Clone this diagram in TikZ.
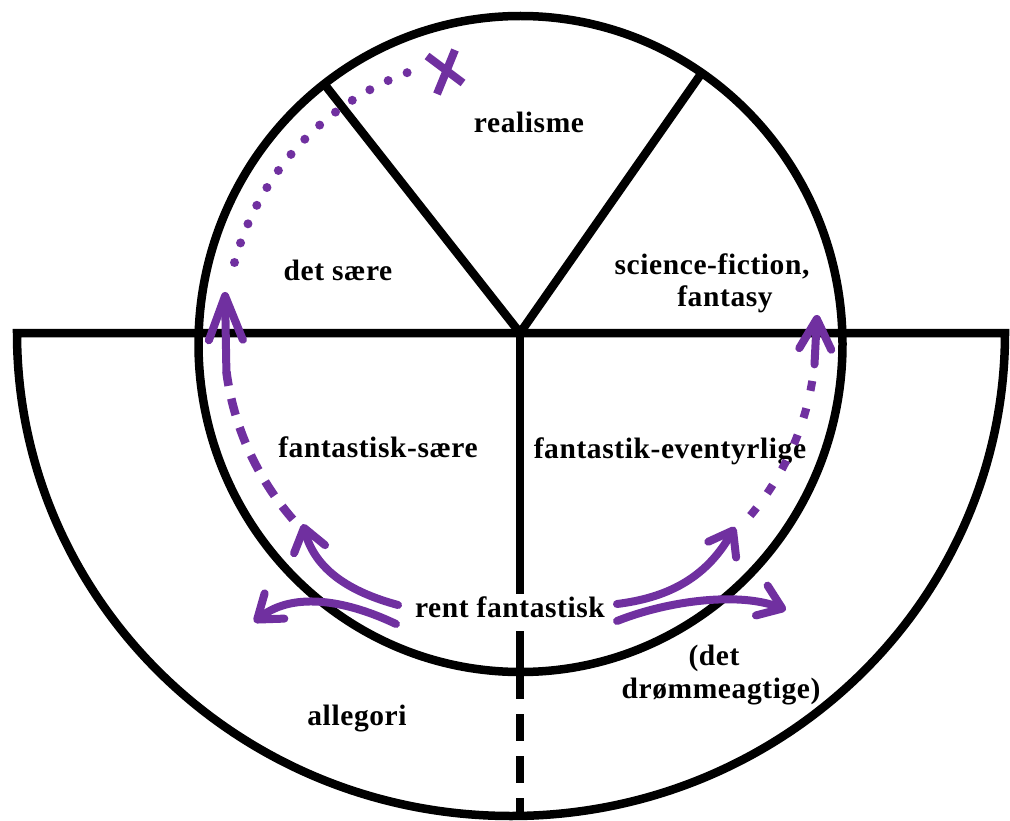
\documentclass[tikz,border=0pt]{standalone}
\usepackage{fontspec}
\usetikzlibrary{arrows.meta}
\newfontfamily\lblfont{Liberation Serif}[LetterSpace=2]
\definecolor{violetA}{HTML}{7030A0}
\begin{document}
\begin{tikzpicture}[x=1pt,y=-1pt,
  blk/.style={line width=8.5pt, draw=black},
  lbl/.style={font=\lblfont\bfseries\fontsize{29.5}{34}\selectfont, anchor=base, inner sep=0pt},
  parrow/.style={line width=8pt, draw=violetA, line cap=round, -{Straight Barb[length=22pt,width=32pt,round]}},
  pdash/.style={line width=8.5pt, draw=violetA, dash pattern=on 17pt off 13pt},
  pdashb/.style={line width=8pt, draw=violetA, dash pattern=on 10pt off 18pt},
  pdot/.style={line width=9pt, draw=violetA, line cap=round, dash pattern=on 0pt off 20.5pt},
]
\useasboundingbox (0,0) rectangle (1010,821);
\fill[white] (0,0) rectangle (1010,821);
% geometry
\coordinate (O) at (520,333);
\coordinate (C) at (520.5,344);
\coordinate (PL) at (325,85);
\coordinate (PR) at (701,74);
\coordinate (Cb) at (520,672);
\coordinate (Ob) at (520,816);
\coordinate (HL) at (17,333);
\coordinate (HR) at (1005,333);
% black frame
\draw[blk] (C) ellipse[x radius=322, y radius=328];
\draw[blk, line join=miter] (HL) -- (HR) arc[start angle=0, end angle=180, x radius=494, y radius=483] -- cycle;
\draw[blk, line join=round] (PL) -- (O) -- (PR);
\draw[blk] (O) -- (Cb);
\draw[blk, dash pattern=on 27pt off 15pt] (Cb) -- (Ob);
% labels
\node[lbl] (realisme) at (529,133) {realisme};
\node[lbl] (detsaere) at (338,281) {det sære};
\node[lbl] (sf1) at (712,275) {science-fiction,};
\node[lbl] (sf2) at (725,307) {fantasy};
\node[lbl] (fsaere) at (378,457) {fantastisk-sære};
\node[lbl] (feventyr) at (670,458) {fantastik-eventyrlige};
\node[lbl, fill=white, inner xsep=3pt, inner ysep=2pt, text depth=12pt] (rent) at (510,617) {rent fantastisk};
\node[lbl] (allegori) at (357,725) {allegori};
\node[lbl] (dream1) at (714,665) {(det};
\node[lbl] (dream2) at (721,698) {drømmeagtige)};
% purple arrows from "rent fantastisk"
\coordinate (rL1) at (398,605); \coordinate (tL1) at (303,524);
\coordinate (rL2) at (396,624); \coordinate (tL2) at (254,622);
\coordinate (rR1) at (617,604); \coordinate (tR1) at (735,527);
\coordinate (rR2) at (617,621); \coordinate (tR2) at (786,610);
\draw[parrow] (rL1) .. controls (350,592) and (315,570) .. (tL1);
\draw[parrow] (rL2) .. controls (350,602) and (295,590) .. (tL2);
\draw[parrow] (rR1) .. controls (665,598) and (705,580) .. (tR1);
\draw[parrow] (rR2) .. controls (670,600) and (740,592) .. (tR2);
% left path: dashed, arrow up, dotted, cross
\coordinate (dA) at (292.9,519.4);
\coordinate (mL) at (226.4,371.7);
\coordinate (tipL) at (225,292);
\draw[pdash] (dA) .. controls (256.7,477.7) and (233.6,426.4) .. (mL);
\draw[parrow, -{Straight Barb[length=44pt,width=34pt,round]}] (mL) -- (tipL);
\coordinate (dB) at (234.5,262.5);
\coordinate (dE) at (409.2,71.9);
\draw[pdot] (dB) .. controls (258.2,174.2) and (323.3,103.2) .. (dE);
\coordinate (x1) at (427,56); \coordinate (x2) at (463,83);
\coordinate (x3) at (455,50); \coordinate (x4) at (437,94);
\draw[line width=8pt, draw=violetA] (x1) -- (x2) (x3) -- (x4);
% right path: dashed, arrow up
\coordinate (dC) at (750.3,515.6);
\coordinate (mR) at (814.5,364.4);
\coordinate (tipR) at (817,315);
\draw[pdashb] (dC) .. controls (786.3,472.7) and (808.6,420.1) .. (mR);
\draw[parrow, -{Straight Barb[length=30pt,width=32pt,round]}] (mR) -- (tipR);
\end{tikzpicture}
\end{document}
